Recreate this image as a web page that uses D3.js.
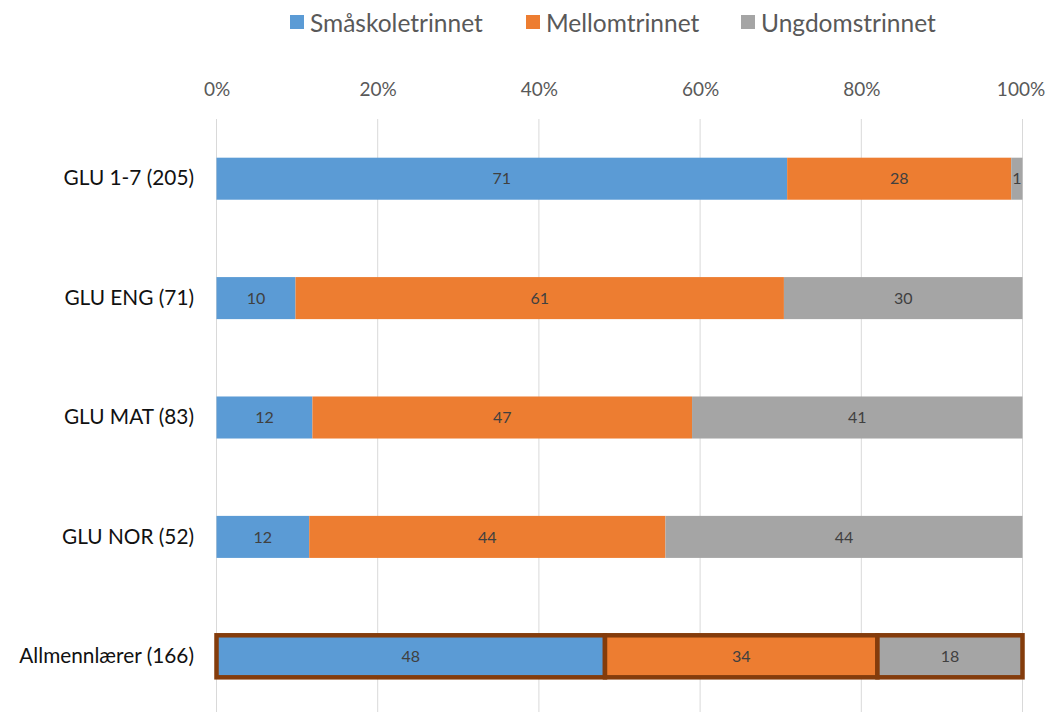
<!DOCTYPE html>
<html>
<head>
<meta charset="utf-8">
<script src="https://cdn.jsdelivr.net/npm/d3@7"></script>
<style>
  html, body { margin: 0; padding: 0; background: #fff; }
  svg { display: block; font-family: Lato, "Open Sans", sans-serif; }
</style>
</head>
<body>
<svg id="chart" width="1053" height="712"></svg>
<script>
const categories = ["GLU 1-7 (205)", "GLU ENG (71)", "GLU MAT (83)", "GLU NOR (52)", "Allmennlærer (166)"];
const seriesNames = ["Småskoletrinnet", "Mellomtrinnet", "Ungdomstrinnet"];
const smaskole = [70.8, 9.8, 11.9, 11.5, 48.2];
const mellom   = [27.8, 60.6, 47.1, 44.2, 33.8];
const ungdom   = [1.4, 29.6, 41.0, 44.3, 18.0];
const labelsSma = [71, 10, 12, 12, 48];
const labelsMel = [28, 61, 47, 44, 34];
const labelsUng = [1, 30, 41, 44, 18];
const tickValues = [0, 20, 40, 60, 80, 100];
const colors = ["#5B9BD5", "#ED7D31", "#A5A5A5"];
const highlighted = "Allmennlærer (166)";

const svg = d3.select("#chart");
const x = d3.scaleLinear().domain([0, 100]).range([216.5, 1022.5]);
const y = d3.scaleBand().domain(categories).range([119, 716]).paddingInner(0.648).paddingOuter(0.324);

// gridlines
svg.append("g").selectAll("line").data(tickValues).join("line")
  .attr("x1", d => x(d)).attr("x2", d => x(d))
  .attr("y1", 119).attr("y2", 712)
  .attr("stroke", "#D9D9D9").attr("stroke-width", 1);

// top axis labels
const xAxis = d3.axisTop(x).tickValues(tickValues).tickFormat(d => d + "%").tickSize(0).tickPadding(0);
const ax = svg.append("g").attr("transform", "translate(0,96)").call(xAxis);
ax.select(".domain").remove();
ax.selectAll("text").attr("fill", "#595959").attr("font-size", 19).attr("font-family", "Lato, sans-serif");
ax.selectAll(".tick").filter(d => d === 100).select("text").attr("dx", -2);

// category labels
const yAxis = d3.axisLeft(y).tickSize(0).tickPadding(0);
const ay = svg.append("g").attr("transform", "translate(194,0)").call(yAxis);
ay.select(".domain").remove();
ay.selectAll("text").attr("fill", "#111").attr("font-size", 20.8).attr("font-family", "Lato, sans-serif");

// stacked data
const rows = categories.map((c, i) => ({cat: c, s0: smaskole[i], s1: mellom[i], s2: ungdom[i]}));
const labelArrays = [labelsSma, labelsMel, labelsUng];
const stacked = d3.stack().keys(["s0", "s1", "s2"])(rows);

stacked.forEach((layer, si) => {
  svg.append("g").selectAll("rect").data(layer).join("rect")
    .attr("x", d => x(d[0]))
    .attr("width", d => x(d[1]) - x(d[0]))
    .attr("y", d => y(d.data.cat))
    .attr("height", y.bandwidth())
    .attr("fill", colors[si])
    .attr("stroke", d => d.data.cat === highlighted ? "#843C0C" : "none")
    .attr("stroke-width", d => d.data.cat === highlighted ? 4.5 : 0);
});

stacked.forEach((layer, si) => {
  svg.append("g").selectAll("text").data(layer).join("text")
    .attr("x", d => (x(d[0]) + x(d[1])) / 2)
    .attr("y", d => y(d.data.cat) + y.bandwidth() / 2)
    .attr("dy", "0.35em")
    .attr("text-anchor", "middle")
    .attr("font-size", 16)
    .attr("fill", "#404040")
    .text((d, i) => labelArrays[si][i]);
});

// legend
const legendX = [290, 526, 741];
const lg = svg.append("g");
seriesNames.forEach((name, i) => {
  lg.append("rect").attr("x", legendX[i]).attr("y", 15).attr("width", 14).attr("height", 14).attr("fill", colors[i]);
  lg.append("text").attr("x", legendX[i] + 20).attr("y", 23).attr("dy", "0.35em")
    .attr("font-size", 24.5).attr("fill", "#595959").text(name);
});
</script>
</body>
</html>
